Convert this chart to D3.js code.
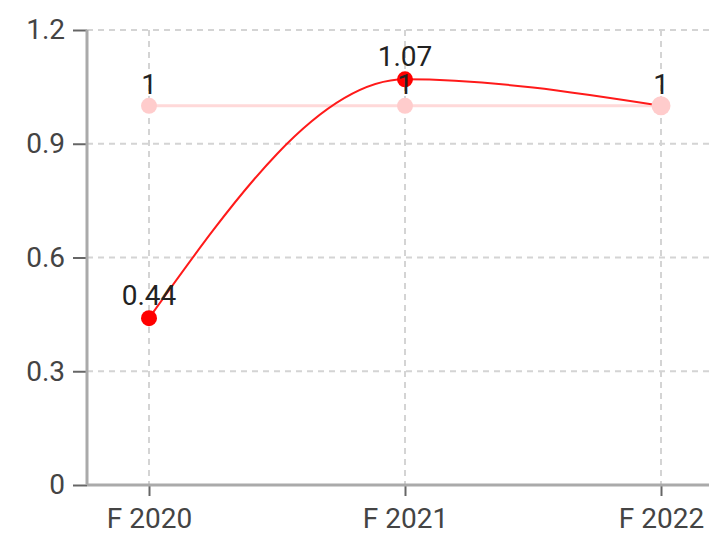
<!DOCTYPE html>
<html>
<head>
<meta charset="utf-8">
<script src="https://cdn.jsdelivr.net/npm/d3@7"></script>
<style>
  body { margin: 0; background: #fff; }
  svg text { font-family: Roboto, "Noto Sans", sans-serif; }
</style>
</head>
<body>
<svg id="chart" width="709" height="538"></svg>
<script>
'use strict'

// chart data
const categories = ['F 2020', 'F 2021', 'F 2022']
const targetValues = [1, 1, 1]
const actualValues = [0.44, 1.07, 1.00]
const yTicks = [0, 0.3, 0.6, 0.9, 1.2]

const margins = {top: 30, right: 0, bottom: 53, left: 87}
const width = 709, height = 538
const chartHeight = height - margins.top - margins.bottom

const svg = d3.select('#chart')

// scales
const x = d3.scalePoint().domain(categories).range([149, 661])
const y = d3.scaleLinear().domain([0, 1.2]).range([margins.top + chartHeight, margins.top])

// grid (dashed)
const grid = svg.append('g').attr('class', 'grid')
grid.selectAll('line.h')
  .data(yTicks.filter(d => d > 0))
  .enter().append('line')
    .attr('x1', margins.left).attr('x2', width)
    .attr('y1', d => y(d)).attr('y2', d => y(d))
    .attr('stroke', '#d4d4d4').attr('stroke-width', 2)
    .attr('stroke-dasharray', '6,5')
grid.selectAll('line.v')
  .data(categories)
  .enter().append('line')
    .attr('x1', d => x(d)).attr('x2', d => x(d))
    .attr('y1', y(1.2)).attr('y2', y(0))
    .attr('stroke', '#d4d4d4').attr('stroke-width', 2)
    .attr('stroke-dasharray', '6,5')

// x axis
const xAxis = svg.append('g')
  .attr('transform', 'translate(0,' + y(0) + ')')
  .call(d3.axisBottom(x).tickSize(11).tickPadding(12))
xAxis.select('.domain').remove()
xAxis.append('line')
  .attr('x1', margins.left).attr('x2', width)
  .attr('stroke', '#aaa').attr('stroke-width', 3)
xAxis.selectAll('.tick line').attr('stroke', '#666').attr('stroke-width', 2)
xAxis.selectAll('.tick text')
  .attr('fill', '#444').style('font-size', '28px')

// y axis
const yAxis = svg.append('g')
  .attr('transform', 'translate(' + margins.left + ',0)')
  .call(d3.axisLeft(y).tickValues(yTicks).tickFormat(d3.format('')).tickSize(14).tickPadding(8))
yAxis.select('.domain').remove()
yAxis.append('line')
  .attr('y1', y(1.2)).attr('y2', y(0))
  .attr('stroke', '#aaa').attr('stroke-width', 3)
yAxis.selectAll('.tick line').attr('stroke', '#666').attr('stroke-width', 2)
yAxis.selectAll('.tick text')
  .attr('fill', '#444').style('font-size', '28px')

// target line (light pink)
const straight = d3.line().x((d, i) => x(categories[i])).y(d => y(d))
svg.append('path')
  .datum(targetValues)
  .attr('d', straight)
  .attr('fill', 'none')
  .attr('stroke', '#ffd9d9').attr('stroke-width', 3)

// actual line (red, smooth)
const smooth = d3.line().x((d, i) => x(categories[i])).y(d => y(d)).curve(d3.curveMonotoneX)
svg.append('path')
  .datum(actualValues)
  .attr('d', smooth)
  .attr('fill', 'none')
  .attr('stroke', '#ff1a1a').attr('stroke-width', 2)

svg.selectAll('circle.actual')
  .data(actualValues)
  .enter().append('circle')
    .attr('class', 'actual')
    .attr('cx', (d, i) => x(categories[i]))
    .attr('cy', d => y(d))
    .attr('r', 8)
    .attr('fill', '#ff0000')

svg.selectAll('circle.target')
  .data(targetValues)
  .enter().append('circle')
    .attr('class', 'target')
    .attr('cx', (d, i) => x(categories[i]))
    .attr('cy', d => y(d))
    .attr('r', (d, i) => i === targetValues.length - 1 ? 9.5 : 8)
    .attr('fill', '#ffcccc')

// value labels
const labels = svg.append('g')
  .style('font-size', '28px').attr('fill', '#222').attr('text-anchor', 'middle')
labels.selectAll('text.t')
  .data(targetValues)
  .enter().append('text')
    .attr('x', (d, i) => x(categories[i]))
    .attr('y', d => y(d) - 12)
    .text(d => d)
labels.selectAll('text.a')
  .data(actualValues.slice(0, 2))
  .enter().append('text')
    .attr('x', (d, i) => x(categories[i]))
    .attr('y', d => y(d) - 13)
    .text(d => d)
</script>
</body>
</html>
